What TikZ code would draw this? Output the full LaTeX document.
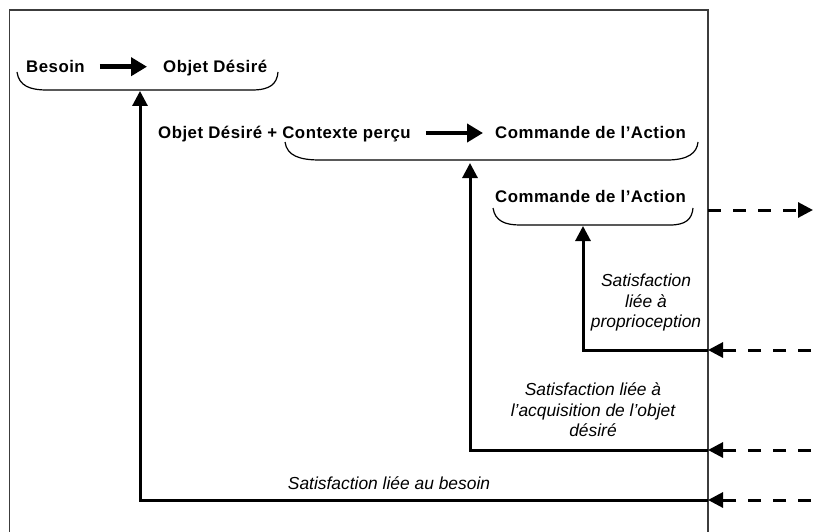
\documentclass[tikz,border=0pt]{standalone}
\usepackage{fontspec}
\setmainfont{Liberation Sans}
\newfontfamily\termfont[LetterSpace=3]{Liberation Sans}
\usetikzlibrary{arrows.meta}

\definecolor{framegray}{RGB}{60,60,60}

\tikzset{
  term/.style={font={\fontsize{16.8}{20}\selectfont\termfont\bfseries}, inner sep=0pt, anchor=base west},
  note/.style={font={\fontsize{17.4}{20.5}\selectfont\itshape}, align=center, inner sep=0pt},
  brace/.style={line width=1.2pt},
  bigarrow/.style={line width=4.5pt, -{Triangle[length=16pt,width=18pt]}},
  feedback/.style={line width=3pt, -{Triangle[length=15pt,width=15pt]}},
  outside/.style={line width=3pt, dash pattern=on 13pt off 12pt, -{Triangle[length=15pt,width=15pt]}}
}

\begin{document}
\begin{tikzpicture}[x=1pt,y=-1pt]
  \useasboundingbox (0,0) rectangle (814,532);
  % cadre
  \draw[framegray, line width=1.3pt] (9.5,532) -- (9.5,10) -- (708,10) -- (708,532);

  \draw
    (26,72.7) node[term] (besoin){Besoin}
    (163,72.7) node[term] (objet){Objet Désiré}
    (158,139) node[term] (percu){Objet Désiré + Contexte perçu}
    (495,139) node[term] (cmd){Commande de l’Action}
    (495,202) node[term] (action){Commande de l’Action}
    (646,303) node[note] (proprio){Satisfaction\\liée à\\proprioception}
    (593,410) node[note] (acquis){Satisfaction liée à\\l’acquisition de l’objet\\désiré}
    (389,483) node[note] (satbesoin){Satisfaction liée au besoin};

  % accolades
  \draw[brace] (17,72) .. controls (19,86) and (30,90) .. (47,90) -- (252,90)
    .. controls (270,90) and (277,84) .. (278,72);
  \draw[brace] (285,142) .. controls (287,156) and (300,160) .. (320,160) -- (667,160)
    .. controls (688,160) and (697,153) .. (698,142);
  \draw[brace] (493,208) .. controls (495,221) and (505,225) .. (520,225) -- (670,225)
    .. controls (686,225) and (692,219) .. (693,208);

  \coordinate (b1) at (140,91);
  \coordinate (b2) at (470,163);
  \coordinate (b3) at (583,226);
  \coordinate (k1) at (140,500);
  \coordinate (k2) at (470,450);
  \coordinate (k3) at (583,350);
  \coordinate (e1) at (708,500);
  \coordinate (e2) at (708,450);
  \coordinate (e3) at (708,350);
  \coordinate (e4) at (708,210);
  \coordinate (o1) at (811,500);
  \coordinate (o2) at (811,450);
  \coordinate (o3) at (811,350);
  \coordinate (o4) at (813,210);

  \begin{scope}
    \draw[bigarrow] ([xshift=15pt]besoin.east) -- ([xshift=-16pt]besoin.east -| objet.west);
    \draw[bigarrow] ([xshift=15pt,yshift=6pt]percu.base east) -- ([xshift=-12pt,yshift=6pt]cmd.base west);
    \draw[feedback] (e1) -- (k1) -- (b1);
    \draw[feedback] (e2) -- (k2) -- (b2);
    \draw[feedback] (e3) -- (k3) -- (b3);
    \draw[outside] (o1) -- (e1);
    \draw[outside] (o2) -- (e2);
    \draw[outside] (o3) -- (e3);
    \draw[outside] (e4) -- (o4);
  \end{scope}
\end{tikzpicture}
\end{document}
